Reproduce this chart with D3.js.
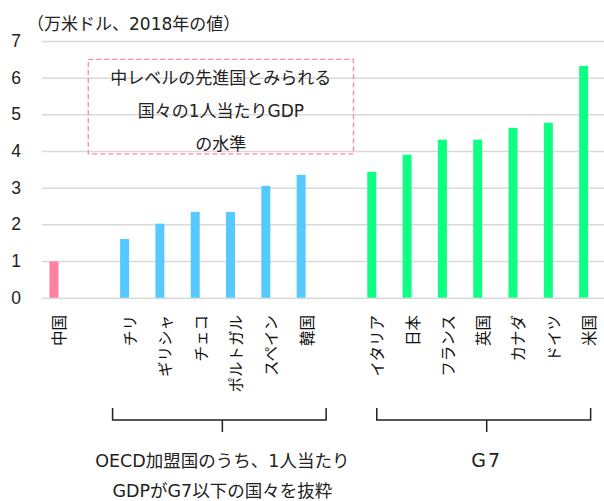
<!DOCTYPE html>
<html>
<head>
  <meta charset="utf-8">
  <title>1人当たりGDP</title>
  <style>
    body { margin: 0; background: #fff; }
    svg { font-family: "DejaVu Sans", "Noto Sans CJK JP", sans-serif; }
    .axis-y text { font-size: 17.5px; fill: #222; }
    .axis-y line { stroke: #d9d9d9; stroke-width: 1.5; }
    .axis-x text { font-size: 15.5px; fill: #111; font-family: "Noto Sans CJK JP", sans-serif; }
    .note { font-size: 17px; fill: #222; }
    .group-label { font-size: 17.5px; fill: #222; }
  </style>
</head>
<body>
  <svg id="chart" width="604" height="501"></svg>

  <script src="https://d3js.org/d3.v7.min.js"></script>
  <script>
    // data (万米ドル, 2018年) - null = empty slot between groups
    const categories = ["中国", null, "チリ", "ギリシャ", "チェコ", "ポルトガル", "スペイン", "韓国",
                        null, "イタリア", "日本", "フランス", "英国", "カナダ", "ドイツ", "米国"];
    const values = [0.99, null, 1.60, 2.02, 2.34, 2.34, 3.05, 3.35,
                    null, 3.43, 3.90, 4.31, 4.31, 4.63, 4.77, 6.32];
    const groups = ["china", null, "oecd", "oecd", "oecd", "oecd", "oecd", "oecd",
                    null, "g7", "g7", "g7", "g7", "g7", "g7", "g7"];
    const yTicks = [0, 1, 2, 3, 4, 5, 6, 7];

    const colors = { china: "#ff809f", oecd: "#56c9ff", g7: "#0eff84" };

    const width = 604;
    const height = 501;

    const svg = d3.select("#chart")
                  .attr("width", width)
                  .attr("height", height);

    const data = categories.map((c, i) => ({ i, name: c, value: values[i], group: groups[i] }));

    // scales
    const xScale = d3.scaleBand()
                     .domain(data.map(d => d.i))
                     .range([36.3, 601.3]);

    const yScale = d3.scaleLinear()
                     .domain([0, 7])
                     .range([297.7, 41]);

    const barWidth = 9;
    const cx = i => xScale(i) + xScale.bandwidth() / 2;

    // y axis with gridlines
    const gridLeft = 42;
    svg.append("g")
       .attr("class", "axis-y")
       .attr("transform", `translate(${gridLeft},0)`)
       .call(d3.axisLeft(yScale)
               .tickValues(yTicks)
               .tickSize(-(width - gridLeft))
               .tickPadding(21)
               .tickFormat(d3.format("d")))
       .call(g => g.select(".domain").remove());

    // unit label
    svg.append("text")
       .attr("class", "note")
       .attr("x", 27)
       .attr("y", 30)
       .text("（万米ドル、2018年の値）");

    // bars
    svg.selectAll(".bar")
       .data(data.filter(d => d.value != null))
       .enter().append("rect")
       .attr("class", "bar")
       .attr("x", d => cx(d.i) - barWidth / 2)
       .attr("y", d => yScale(d.value))
       .attr("width", barWidth)
       .attr("height", d => yScale(0) - yScale(d.value))
       .attr("fill", d => colors[d.group]);

    // x labels, vertical
    svg.append("g")
       .attr("class", "axis-x")
       .selectAll("text")
       .data(data.filter(d => d.name))
       .enter().append("text")
       .attr("transform", d => `translate(${cx(d.i) + 6},315) rotate(-90)`)
       .attr("text-anchor", "end")
       .attr("dy", "0.35em")
       .text(d => d.name);

    // annotation box
    const box = { x0: cx(1) - 1, x1: cx(8) + 17, y0: yScale(6.5), y1: yScale(3.92) };
    svg.append("rect")
       .attr("x", box.x0)
       .attr("y", box.y0)
       .attr("width", box.x1 - box.x0)
       .attr("height", box.y1 - box.y0)
       .attr("fill", "none")
       .attr("stroke", "#ff85a6")
       .attr("stroke-width", 1.3)
       .attr("stroke-dasharray", "5,3");

    const boxLines = ["中レベルの先進国とみられる", "国々の1人当たりGDP", "の水準"];
    svg.append("g")
       .selectAll("text")
       .data(boxLines)
       .enter().append("text")
       .attr("class", "note")
       .attr("x", (box.x0 + box.x1) / 2)
       .attr("y", (d, k) => 83.5 + k * 33)
       .attr("text-anchor", "middle")
       .text(d => d);

    // group brackets
    const brackets = [
      { from: 2, to: 7, dl: -12, dr: 25, spacing: 0, lines: ["OECD加盟国のうち、1人当たり", "GDPがG7以下の国々を抜粋"] },
      { from: 9, to: 15, dl: 5, dr: 7, spacing: 2, lines: ["G7"] }
    ];
    const bY = 420;
    brackets.forEach(b => {
      const l = cx(b.from) + b.dl;
      const r = cx(b.to) + b.dr;
      const m = (l + r) / 2 + 3;
      svg.append("path")
         .attr("d", `M${l},${bY - 12}V${bY}H${r}V${bY - 12}M${m},${bY}V${bY + 12}`)
         .attr("fill", "none")
         .attr("stroke", "#222")
         .attr("stroke-width", 1.5);
      svg.append("g")
         .selectAll("text")
         .data(b.lines)
         .enter().append("text")
         .attr("class", "group-label")
         .attr("x", m)
         .attr("y", (d, k) => 467 + k * 29.5)
         .attr("text-anchor", "middle")
         .style("font-size", b.spacing ? "19px" : null)
         .style("letter-spacing", b.spacing + "px")
         .text(d => d);
    });
  </script>
</body>
</html>
